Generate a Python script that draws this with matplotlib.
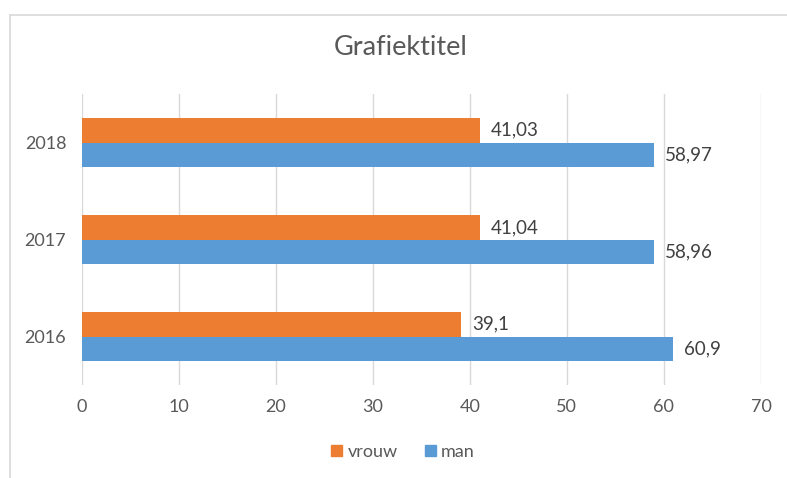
import matplotlib
matplotlib.use("Agg")
import matplotlib.pyplot as plt
from matplotlib.lines import Line2D
from matplotlib.patches import Patch
import numpy as np

years = ["2016", "2017", "2018"]
vrouw = [39.1, 41.04, 41.03]
man = [60.9, 58.96, 58.97]
vrouw_labels = ["39,1", "41,04", "41,03"]
man_labels = ["60,9", "58,96", "58,97"]
xticks = [0, 10, 20, 30, 40, 50, 60, 70]

plt.rcParams['font.family'] = ['Lato', 'DejaVu Sans']

fig = plt.figure(figsize=(7.87, 4.78), dpi=100)
ax = fig.add_axes([81.5/787, 1-385/478, (761-81.5)/787, (385-94)/478])

orange = "#ED7D31"
blue = "#5B9BD5"
txt = "#595959"

y = np.arange(len(years))
h = 0.25
ax.barh(y + h/2, vrouw, height=h, color=orange, zorder=3, label="vrouw")
ax.barh(y - h/2, man, height=h, color=blue, zorder=3, label="man")

for i in range(len(years)):
    ax.annotate(vrouw_labels[i], (vrouw[i], y[i] + h/2), xytext=(8, 0), textcoords="offset points",
                va="center", ha="left", fontsize=13.5, color="#404040")
    ax.annotate(man_labels[i], (man[i], y[i] - h/2), xytext=(8, 0), textcoords="offset points",
                va="center", ha="left", fontsize=13.5, color="#404040")

ax.set_xlim(0, 70)
ax.set_ylim(-0.5, 2.5)
ax.set_xticks(xticks)
ax.set_xticklabels([str(t) for t in xticks], fontsize=13, color=txt)
ax.set_yticks(y)
ax.set_yticklabels(years, fontsize=13, color=txt)
ax.grid(axis="x", color="#D9D9D9", linewidth=1, zorder=0)
for s in ax.spines.values():
    s.set_visible(False)
ax.tick_params(axis="both", length=0)
ax.tick_params(axis="x", pad=10)
ax.tick_params(axis="y", pad=11)

fig.text(401/787, 1-47/478, "Grafiektitel", ha="center", va="center", fontsize=19.5, color=txt)

handles = [Patch(color=orange, label="vrouw"), Patch(color=blue, label="man")]
fig.legend(handles=handles, loc="center", bbox_to_anchor=(403/787, 1-452/478), ncol=2, frameon=False,
           fontsize=13, labelcolor=txt, handlelength=0.6, handleheight=0.6, handletextpad=0.3,
           columnspacing=1.5)

fig.add_artist(Line2D([10/787, 10/787], [0, 1-15/478], transform=fig.transFigure, color="#D9D9D9", linewidth=1.2))
fig.add_artist(Line2D([10/787, 1], [1-15/478, 1-15/478], transform=fig.transFigure, color="#D9D9D9", linewidth=1.2))

fig.savefig("out.png", dpi=100, facecolor="white")
